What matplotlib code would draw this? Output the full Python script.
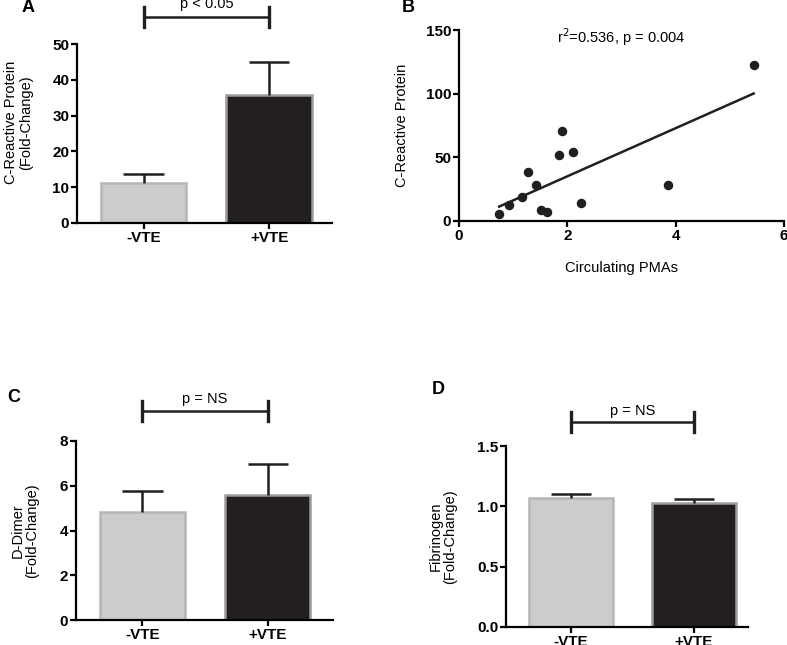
import numpy as np
import matplotlib
matplotlib.use("Agg")
import matplotlib.pyplot as plt
import matplotlib.transforms as mtransforms

plt.rcParams['font.family'] = ['Liberation Sans', 'DejaVu Sans']

# group labels shared by the bar panels
groups = ['-VTE', '+VTE']

# panel A: C-reactive protein (fold change), mean and upper error
crp_mean = [11.2, 35.7]
crp_err = [2.4, 9.2]

# panel B: circulating PMAs vs CRP
pma_x = [0.74, 0.92, 1.16, 1.28, 1.42, 1.51, 1.62, 1.85, 1.90, 2.10, 2.25, 3.86, 5.44]
pma_crp = [5.5, 12.6, 18.8, 38.7, 28.3, 8.4, 6.8, 51.8, 70.7, 54.5, 14.1, 28.0, 122.3]
fit_slope = 18.9
fit_intercept = -2.7

# panel C: D-dimer
dd_mean = [4.83, 5.60]
dd_err = [0.95, 1.37]

# panel D: fibrinogen
fib_mean = [1.07, 1.03]
fib_err = [0.035, 0.03]

bar_colors = ['#cbcccd', '#231f20']
edge_colors = ['#b5b6b8', '#9c9c9c']
ink = '#231f20'

W, H = 787, 645
fig = plt.figure(figsize=(W / 100, H / 100), dpi=100)


def px_axes(left, right, top, bottom):
    return fig.add_axes([left / W, 1 - bottom / H, (right - left) / W, (bottom - top) / H])


def style(ax):
    for s in ['top', 'right']:
        ax.spines[s].set_visible(False)
    for s in ['left', 'bottom']:
        ax.spines[s].set_linewidth(1.6)
    ax.tick_params(width=1.6, length=4, labelsize=11, pad=1.5)
    for lab in ax.get_xticklabels() + ax.get_yticklabels():
        lab.set_fontweight('bold')


def bar_panel(ax, means, errs, ylim, yticks, ylabel, label_x, ptext, bracket_y, text_y, xlim_right):
    x = np.arange(len(groups))
    ax.bar(x, means, width=0.68, color=bar_colors, edgecolor=edge_colors, linewidth=1.8, zorder=2)
    tops = np.array(means) + np.array(errs)
    # upper-only error bars
    ax.vlines(x, means, tops, color=ink, lw=1.8, zorder=3)
    ax.hlines(tops, x - 0.16, x + 0.16, color=ink, lw=1.8, zorder=3)
    ax.set_xlim(-0.53, xlim_right)
    ax.set_ylim(*ylim)
    ax.set_yticks(yticks)
    ax.set_xticks(x)
    ax.set_xticklabels(groups)
    ax.set_ylabel(ylabel, fontsize=10.5, linespacing=1.05)
    ax.yaxis.set_label_coords(label_x, 0.5)
    style(ax)
    tr = mtransforms.blended_transform_factory(ax.transData, ax.transAxes)
    ax.plot([0, 1], [bracket_y, bracket_y], color=ink, lw=1.8, transform=tr, clip_on=False)
    for xb in [0, 1]:
        ax.plot([xb, xb], [bracket_y - 0.055, bracket_y + 0.055], color=ink, lw=2.4,
                transform=tr, clip_on=False)
    ax.text(0.5, text_y, ptext, transform=tr, ha='center', va='center', fontsize=10.5)


# A
axA = px_axes(77, 332, 44, 223)
bar_panel(axA, crp_mean, crp_err, (0, 50), [0, 10, 20, 30, 40, 50],
          'C-Reactive Protein\n(Fold-Change)', -0.173, 'p < 0.05', 1.151, 1.225, 1.5)
axA.yaxis.set_label_coords(-0.173, 0.56)

# B
axB = px_axes(459, 784, 30, 221)
axB.scatter(pma_x, pma_crp, s=34, color=ink, zorder=3, clip_on=False)
fx = np.array([min(pma_x), max(pma_x)])
axB.plot(fx, fit_slope * fx + fit_intercept, color=ink, lw=1.8)
axB.set_xlim(0, 6)
axB.set_ylim(0, 150)
axB.set_xticks([0, 2, 4, 6])
axB.set_yticks([0, 50, 100, 150])
axB.set_xlabel('Circulating PMAs', fontsize=10.5)
axB.xaxis.set_label_coords(0.5, -0.21)
axB.set_ylabel('C-Reactive Protein', fontsize=10.5)
axB.yaxis.set_label_coords(-0.155, 0.5)
style(axB)
axB.text(0.5, 0.963, r'r$^2$=0.536, p = 0.004', transform=axB.transAxes, ha='center',
         va='center', fontsize=10.5)

# C
axC = px_axes(76, 333, 441, 620)
bar_panel(axC, dd_mean, dd_err, (0, 8), [0, 2, 4, 6, 8],
          'D-Dimer\n(Fold-Change)', -0.144, 'p = NS', 1.168, 1.235, 1.52)

# D
axD = px_axes(506, 748, 446, 627)
bar_panel(axD, fib_mean, fib_err, (0, 1.5), [0.0, 0.5, 1.0, 1.5],
          'Fibrinogen\n(Fold-Change)', -0.2, 'p = NS', 1.133, 1.195, 1.44)
axD.set_yticklabels(['0.0', '0.5', '1.0', '1.5'], fontweight='bold')

# panel letters
for letter, (px, py) in zip('ABCD', [(28, 8), (408, 8), (14, 398), (438, 390)]):
    fig.text(px / W, 1 - py / H, letter, fontsize=13, fontweight='bold', ha='center', va='center')

fig.savefig('out.png', dpi=100)
